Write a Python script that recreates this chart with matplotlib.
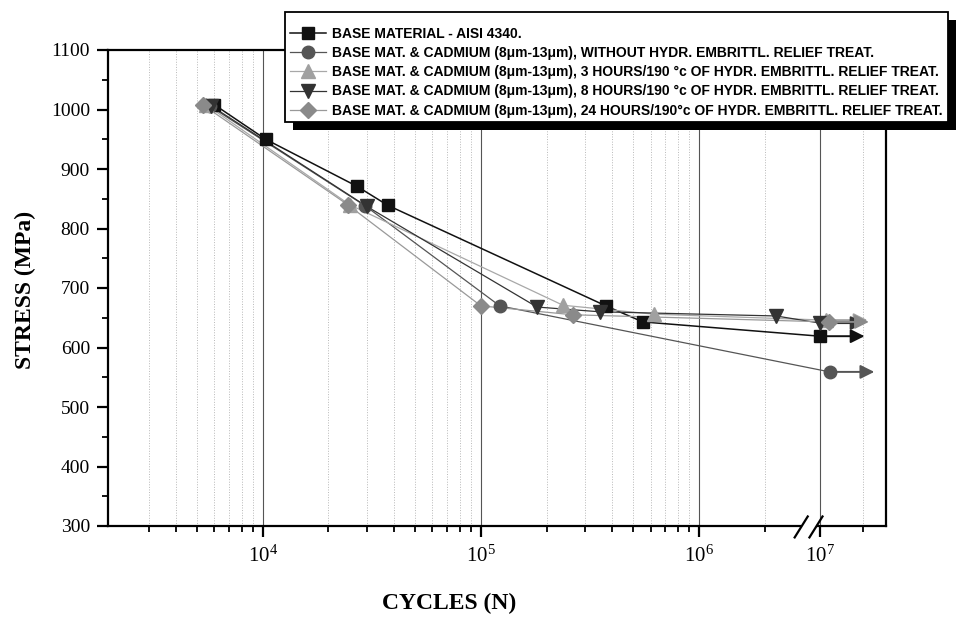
import numpy as np
import matplotlib
matplotlib.use('Agg')
import matplotlib.pyplot as plt
from matplotlib.lines import Line2D
from matplotlib.patches import Rectangle
from matplotlib.transforms import IdentityTransform
from matplotlib.font_manager import FontProperties
import matplotlib.ticker as mticker

# ---------------- data ----------------
labels = [
    "BASE MATERIAL - AISI 4340.",
    "BASE MAT. & CADMIUM (8\u03bcm-13\u03bcm), WITHOUT HYDR. EMBRITTL. RELIEF TREAT.",
    "BASE MAT. & CADMIUM (8\u03bcm-13\u03bcm), 3 HOURS/190 \u00b0c OF HYDR. EMBRITTL. RELIEF TREAT.",
    "BASE MAT. & CADMIUM (8\u03bcm-13\u03bcm), 8 HOURS/190 \u00b0c OF HYDR. EMBRITTL. RELIEF TREAT.",
    "BASE MAT. & CADMIUM (8\u03bcm-13\u03bcm), 24 HOURS/190\u00b0c OF HYDR. EMBRITTL. RELIEF TREAT.",
]
base_x = [6.0e3, 1.03e4, 2.7e4, 3.74e4, 3.74e5, 5.53e5, 1.0e7]
base_y = [1008, 950, 871, 839, 670, 643, 619]
cd0_x = [5.7e3, 2.95e4, 1.22e5, 1.17e7]
cd0_y = [1006, 838, 670, 559]
cd3_x = [5.5e3, 2.5e4, 2.38e5, 6.22e5, 1.1e7]
cd3_y = [1008, 840, 671, 656, 646]
cd8_x = [5.8e3, 3.0e4, 1.81e5, 3.52e5, 2.26e6, 1.0e7]
cd8_y = [1006, 837, 668, 660, 653, 641]
cd24_x = [5.3e3, 2.45e4, 1.0e5, 2.64e5, 1.15e7]
cd24_y = [1008, 840, 670, 655, 643]
runout_end_x = [2.05e7, 2.4e7, 2.15e7, 2.05e7, 2.2e7]

x_major = [1e4, 1e5, 1e6, 1e7]
x_major_labels = [r"$\mathrm{10^{4}}$", r"$\mathrm{10^{5}}$",
                  r"$\mathrm{10^{6}}$", r"$\mathrm{10^{7}}$"]
x_minor = ([m * 1e3 for m in range(3, 10)] + [m * 1e4 for m in range(2, 10)] +
           [m * 1e5 for m in range(2, 10)] + [2e6, 2e7])
y_major = list(range(300, 1101, 100))

# ---------------- styles ----------------
series = [
    (base_x, base_y, 's', 9, '#111111', '#111111', 1.1),
    (cd0_x, cd0_y, 'o', 9, '#555555', '#555555', 0.9),
    (cd3_x, cd3_y, '^', 9.5, '#a0a0a0', '#a8a8a8', 0.9),
    (cd8_x, cd8_y, 'v', 9.5, '#333333', '#333333', 0.9),
    (cd24_x, cd24_y, 'D', 8, '#8a8a8a', '#999999', 0.9),
]

plt.rcParams['mathtext.fontset'] = 'custom'
plt.rcParams['mathtext.rm'] = 'Liberation Serif'
plt.rcParams['mathtext.it'] = 'Liberation Serif:italic'
plt.rcParams['mathtext.bf'] = 'Liberation Serif:bold'

W, H = 956, 618
fig = plt.figure(figsize=(W / 100, H / 100), dpi=100)
ax = fig.add_axes([108 / W, 1 - 526 / H, 778 / W, 476 / H])

# broken log axis
L_A = np.log10(3e6)
U_A = L_A
U_7 = 6.555
S2 = 0.655
U_B = 6.509
L_B = 7 + (U_B - U_7) / S2


def fwd(x):
    x = np.asarray(x, float)
    L = np.log10(np.clip(x, 1e-10, None))
    mid = U_A + (L - L_A) * (U_B - U_A) / (L_B - L_A)
    return np.where(L <= L_A, L, np.where(L >= L_B, U_7 + (L - 7) * S2, mid))


def inv(u):
    u = np.asarray(u, float)
    mid = L_A + (u - U_A) * (L_B - L_A) / (U_B - U_A)
    L = np.where(u <= U_A, u, np.where(u >= U_B, 7 + (u - U_7) / S2, mid))
    return 10 ** L


ax.set_xscale('function', functions=(fwd, inv))
ax.set_xlim(1.95e3, 2.9e7)
ax.set_ylim(300, 1100)

handles = []
for (xs, ys, mk, ms, mc, lc, lw), xe in zip(series, runout_end_x):
    ax.plot(xs, ys, color=lc, lw=lw, zorder=2)
    ax.plot(xs, ys, ls='none', marker=mk, ms=ms, color=mc, mec=mc, zorder=3)
    ax.annotate('', xy=(xe, ys[-1]), xytext=(xs[-1], ys[-1]),
                arrowprops=dict(arrowstyle='-|>,head_length=0.6,head_width=0.3',
                                color=mc, lw=1.4,
                                mutation_scale=14, shrinkA=0, shrinkB=0),
                zorder=3)
    handles.append(Line2D([], [], color=lc, lw=lw, marker=mk, ms=ms,
                          mfc=mc, mec=mc))

ax.set_xticks(x_major)
ax.set_xticklabels(x_major_labels)
ax.xaxis.set_minor_locator(mticker.FixedLocator(x_minor))
ax.xaxis.set_minor_formatter(mticker.NullFormatter())
ax.set_yticks(y_major)
ax.yaxis.set_minor_locator(mticker.MultipleLocator(50))

ax.grid(which='major', axis='x', color='#555555', lw=0.8, ls='-', zorder=0)
ax.grid(which='minor', axis='x', color='#b8b8b8', lw=0.7, ls=':', zorder=0)
ax.set_axisbelow(True)

ax.tick_params(which='major', direction='out', length=8, width=1.6,
               labelsize=14, pad=5)
ax.tick_params(axis='x', which='major', labelsize=15, pad=6)
ax.tick_params(which='minor', direction='out', length=4.5, width=1.3)
for lab in ax.get_yticklabels() + ax.get_xticklabels():
    lab.set_fontfamily('Liberation Serif')
for sp in ax.spines.values():
    sp.set_linewidth(1.6)

# axis break marks
bx1, bx2 = 0.891, 0.910
ax.add_patch(Rectangle((bx1, -0.01), bx2 - bx1, 0.02, transform=ax.transAxes,
                       facecolor='white', edgecolor='none', clip_on=False, zorder=5))
for bx in (bx1, bx2):
    ax.plot([bx - 0.0084, bx + 0.0084], [-0.024, 0.020], color='black', lw=1.6,
            transform=ax.transAxes, clip_on=False, zorder=6)

fig.text(25 / W, 1 - 290 / H, 'STRESS (MPa)', rotation=90, ha='center',
         va='center', fontsize=17, fontweight='bold', family='Liberation Serif')
fig.text(449 / W, 1 - 603 / H, 'CYCLES (N)', ha='center', va='center',
         fontsize=17, fontweight='bold', family='Liberation Serif')

# legend box (frame + heavy shadow) drawn in pixel coordinates
bx0, by0, bx1p, by1p = 285, 12, 948, 122
fig.add_artist(Rectangle((bx0 + 8, H - by1p - 8), bx1p - bx0, by1p - by0,
                         transform=IdentityTransform(), facecolor='black',
                         edgecolor='none', zorder=8))
fig.add_artist(Rectangle((bx0, H - by1p), bx1p - bx0, by1p - by0,
                         transform=IdentityTransform(), facecolor='white',
                         edgecolor='black', lw=1.3, zorder=9))

leg = fig.legend(handles, labels, loc='upper left',
                 bbox_to_anchor=(290 / W, 1 - 27 / H),
                 frameon=False, borderpad=0, labelspacing=0.37, handlelength=2.6,
                 handletextpad=0.45, borderaxespad=0,
                 prop=FontProperties(family=['Liberation Sans Narrow', 'Liberation Sans'],
                                     weight='bold', size=10))
leg.set_zorder(10)

fig.savefig('out.png', dpi=100)
